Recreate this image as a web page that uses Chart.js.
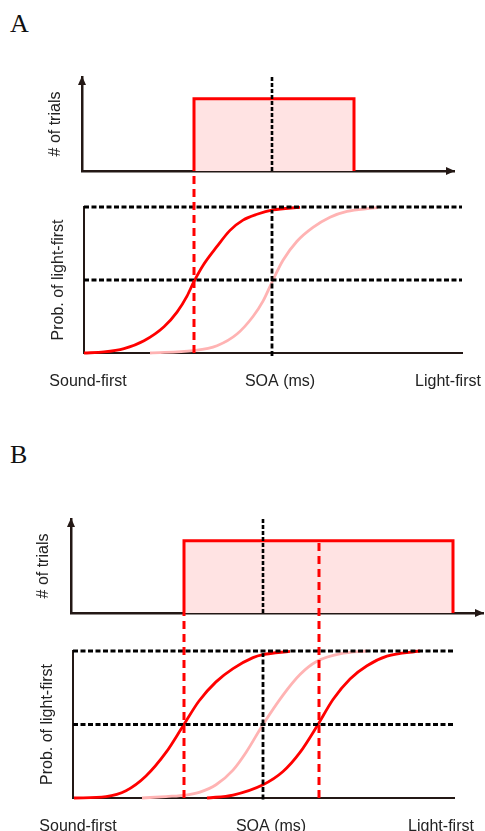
<!DOCTYPE html>
<html>
<head>
<meta charset="utf-8">
<script src="https://cdn.jsdelivr.net/npm/chart.js@4.4.1/dist/chart.umd.min.js"></script>
<style>
  html, body { margin: 0; padding: 0; background: #fff; }
  #page { position: relative; width: 485px; height: 831px; overflow: hidden; }
  canvas { position: absolute; left: 0; }
  .panel { position: absolute; left: 10px; font: 26px/26px "Liberation Serif", serif; color: #111; }
</style>
</head>
<body>
<div id="page">
  <div class="panel" style="top:11px">A</div>
  <canvas id="aTop" width="485" height="200" style="top:0"></canvas>
  <canvas id="aBot" width="485" height="240" style="top:160px"></canvas>
  <div class="panel" style="top:442px">B</div>
  <canvas id="bTop" width="485" height="190" style="top:440px"></canvas>
  <canvas id="bBot" width="485" height="301" style="top:530px"></canvas>
</div>
<script>
// SOA in ms, 0 = physically simultaneous
const tickLabels = ["Sound-first", "SOA (ms)", "Light-first"];
const COUNT_MAX = 1.3;

// Panel A
const aTrialRange = [-78, 82];
const aTrialCount = 1;
const aPSE = -78;
const aAdaptedSOA  = [-188, -168, -148, -128, -108, -95, -85, -78, -69, -55, -42, -29, -15, 1, 28];
const aAdaptedProb = [0, 0.007, 0.03, 0.084, 0.18, 0.28, 0.39, 0.49, 0.60, 0.73, 0.84, 0.91, 0.95, 0.98, 0.998];
const aBaseSOA  = [-122, -79, -55, -35, -19, -9, 1, 11, 25, 41, 58, 75, 98, 106];
const aBaseProb = [0, 0.016, 0.05, 0.13, 0.25, 0.355, 0.5, 0.635, 0.765, 0.86, 0.93, 0.97, 0.99, 0.995];
const aTopRange = [-190, 182];
const aBotRange = [-188, 190];
const aTickSOA = [-184, 8, 176];

// Panel B
const bTrialRange = [-79, 190];
const bTrialCount = 1;
const bPSE = [-79, 56];
const bLeftSOA  = [-189, -157, -137, -117, -97, -80, -64, -47, -30, -10, 0, 27];
const bLeftProb = [0, 0.01, 0.05, 0.15, 0.31, 0.49, 0.66, 0.79, 0.88, 0.955, 0.975, 0.998];
const bBaseSOA  = [-121, -97, -77, -63, -47, -30, -17, 0, 20, 37, 54, 80, 104];
const bBaseProb = [0, 0.01, 0.02, 0.04, 0.09, 0.19, 0.31, 0.5, 0.70, 0.84, 0.93, 0.985, 1.0];
const bRightSOA  = [-56, -30, 0, 20, 37, 55, 70, 87, 104, 124, 157];
const bRightProb = [0, 0.02, 0.09, 0.18, 0.31, 0.5, 0.67, 0.81, 0.90, 0.965, 1.0];
const bTopRange = [-192, 220];
const bBotRange = [-190, 191];
const bTickSOA = [-185, 8, 178];

// layout (page pixels)
const frames = {
  aTop: { canvasTop: 0,   height: 200, left: 82, right: 454, top: 77,  bottom: 171, padLeft: 30, titleX: 56, axisWidth: 2.5 },
  aBot: { canvasTop: 160, height: 240, left: 84, right: 462, top: 207, bottom: 353, padLeft: 30, titleX: 59, axisWidth: 2 },
  bTop: { canvasTop: 440, height: 190, left: 71, right: 483, top: 519, bottom: 613, padLeft: 20, titleX: 44, axisWidth: 2.5 },
  bBot: { canvasTop: 530, height: 301, left: 73, right: 454, top: 651, bottom: 798, padLeft: 20, titleX: 48, axisWidth: 2 }
};

const AXIS = "#231815", TEXT = "#222", RED = "#ff0000", PINK = "#ffb3b3", FILL = "#ffe3e3", BLACK = "#000";
const GUIDE_DASH = [5, 2.5], RED_DASH = [8, 5];

Chart.defaults.font.family = "'Liberation Sans', Arial, sans-serif";
Chart.defaults.font.size = 16;

const arrows = {
  id: "arrows",
  afterDraw(chart) {
    const { ctx, chartArea: { left, top, right, bottom } } = chart;
    ctx.save();
    ctx.fillStyle = AXIS;
    ctx.beginPath();
    ctx.moveTo(left, top - 1);
    ctx.lineTo(left - 4, top + 8);
    ctx.lineTo(left + 4, top + 8);
    ctx.closePath();
    ctx.fill();
    ctx.beginPath();
    ctx.moveTo(right + 1, bottom);
    ctx.lineTo(right - 8, bottom - 4);
    ctx.lineTo(right - 8, bottom + 4);
    ctx.closePath();
    ctx.fill();
    ctx.restore();
  }
};

const pts = (xs, ys) => xs.map((x, i) => ({ x, y: ys[i] }));
const vline = (x, y0, y1) => [{ x, y: y0 }, { x, y: y1 }];
const hline = (range, y) => [{ x: range[0], y }, { x: range[1], y }];
const box = (range, h) => [{ x: range[0], y: 0 }, { x: range[0], y: h }, { x: range[1], y: h }, { x: range[1], y: 0 }];

const curve = (xs, ys, color) => ({ data: pts(xs, ys), borderColor: color, borderWidth: 2.8, cubicInterpolationMode: "monotone", clip: false, pointRadius: 0 });
const dashed = (data, color, dash, width) => ({ data, borderColor: color, borderDash: dash, borderWidth: width, clip: false, pointRadius: 0 });
const trials = (range, h) => ({ data: box(range, h), borderColor: RED, borderWidth: 3, backgroundColor: FILL, fill: "origin", clip: false, pointRadius: 0, borderJoinStyle: "miter" });

function options(f, xRange, yMax, yTitle, tickVals) {
  const below = f.canvasTop + f.height - f.bottom;
  return {
    responsive: false,
    animation: false,
    layout: { padding: { left: f.padLeft, right: 485 - f.right, top: f.top - f.canvasTop, bottom: tickVals ? 0 : below } },
    plugins: { legend: { display: false }, tooltip: { enabled: false } },
    scales: {
      x: {
        type: "linear", min: xRange[0], max: xRange[1],
        grid: { display: false, drawTicks: false },
        border: { display: true, color: AXIS, width: f.axisWidth },
        ticks: tickVals ? {
          display: true, color: TEXT, padding: 19, autoSkip: false, maxRotation: 0,
          callback: (v, i) => tickLabels[i]
        } : { display: false },
        afterBuildTicks: (axis) => { if (tickVals) axis.ticks = tickVals.map(v => ({ value: v })); },
        afterFit: (s) => { s.height = tickVals ? below : 0; s.paddingLeft = 0; s.paddingRight = 0; }
      },
      y: {
        min: 0, max: yMax,
        grid: { display: false, drawTicks: false },
        border: { display: true, color: AXIS, width: f.axisWidth },
        ticks: { display: false },
        title: { display: true, text: yTitle, color: TEXT, font: { size: 16 }, padding: { top: f.titleX - f.padLeft - 9.6, bottom: 0 } },
        afterFit: (s) => { s.width = f.left - f.padLeft; s.paddingTop = 0; s.paddingBottom = 0; }
      }
    }
  };
}

// value on the lower chart's probability axis that reaches a given page y
function reach(bot, pageY) { return 1 + (bot.top - pageY) / (bot.bottom - bot.top); }
function countY(top, v) { return top.bottom - (top.bottom - top.top) * v / COUNT_MAX; }

// A
new Chart(document.getElementById("aTop"), {
  type: "line",
  data: { datasets: [
    dashed(vline(0, 0, COUNT_MAX), BLACK, [4, 2], 2.6),
    trials(aTrialRange, aTrialCount)
  ] },
  options: options(frames.aTop, aTopRange, COUNT_MAX, "# of trials"),
  plugins: [arrows]
});

new Chart(document.getElementById("aBot"), {
  type: "line",
  data: { datasets: [
    dashed(vline(aPSE, 0, reach(frames.aBot, frames.aTop.bottom)), RED, RED_DASH, 3),
    dashed(vline(0, -0.02, 0.98), BLACK, GUIDE_DASH, 2.8),
    dashed(hline(aBotRange, 1), BLACK, GUIDE_DASH, 2.8),
    dashed(hline(aBotRange, 0.5), BLACK, GUIDE_DASH, 2.8),
    curve(aAdaptedSOA, aAdaptedProb, RED),
    curve(aBaseSOA, aBaseProb, PINK)
  ] },
  options: options(frames.aBot, aBotRange, 1, "Prob. of light-first", aTickSOA)
});

// B
new Chart(document.getElementById("bTop"), {
  type: "line",
  data: { datasets: [
    dashed(vline(0, 0, COUNT_MAX), BLACK, [4, 2], 2.6),
    trials(bTrialRange, bTrialCount)
  ] },
  options: options(frames.bTop, bTopRange, COUNT_MAX, "# of trials"),
  plugins: [arrows]
});

new Chart(document.getElementById("bBot"), {
  type: "line",
  data: { datasets: [
    dashed(vline(bPSE[0], 0, reach(frames.bBot, frames.bTop.bottom)), RED, RED_DASH, 3),
    dashed(vline(bPSE[1], 0, reach(frames.bBot, countY(frames.bTop, bTrialCount))), RED, RED_DASH, 3),
    dashed(vline(0, -0.01, 0.985), BLACK, GUIDE_DASH, 2.8),
    dashed(hline(bBotRange, 1), BLACK, GUIDE_DASH, 2.8),
    dashed(hline(bBotRange, 0.5), BLACK, GUIDE_DASH, 2.8),
    curve(bLeftSOA, bLeftProb, RED),
    curve(bRightSOA, bRightProb, RED),
    curve(bBaseSOA, bBaseProb, PINK)
  ] },
  options: options(frames.bBot, bBotRange, 1, "Prob. of light-first", bTickSOA)
});
</script>
</body>
</html>
